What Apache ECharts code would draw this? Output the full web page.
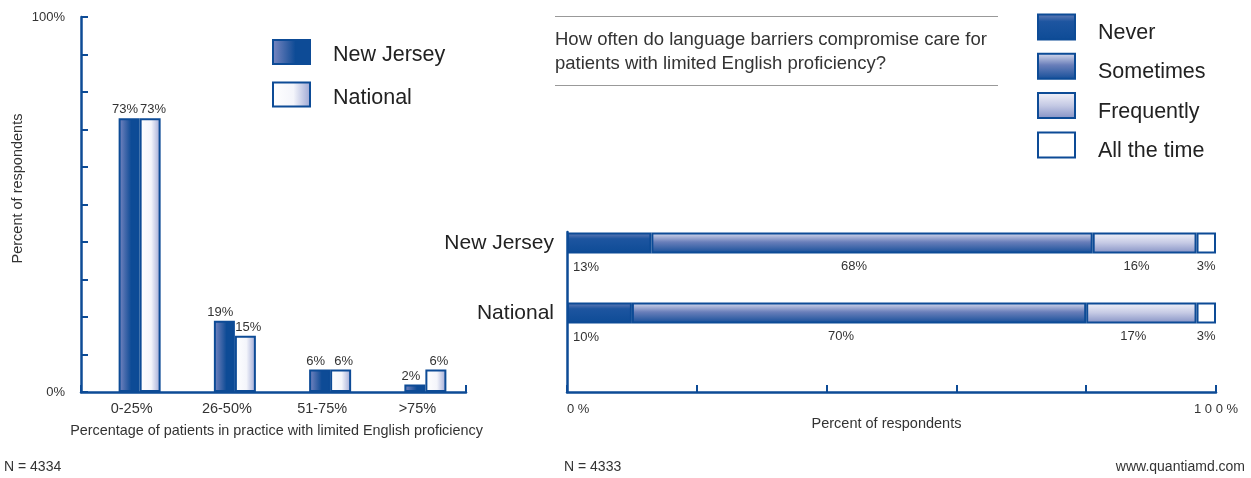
<!DOCTYPE html>
<html>
<head>
<meta charset="utf-8">
<script src="https://cdn.jsdelivr.net/npm/echarts@6/dist/echarts.min.js"></script>
<style>
  html, body { margin: 0; padding: 0; background: #fff; }
  #chart { width: 1251px; height: 478px; }
</style>
</head>
<body>
<div id="chart"></div>
<script>
// Share of patients with limited English proficiency in practice
const shareCategories = ['0-25%', '26-50%', '51-75%', '>75%'];
const shareNewJersey = [73, 19, 6, 2];
const shareNational = [73, 15, 6, 6];

// How often language barriers compromise care
const regions = ['New Jersey', 'National'];
const freqLevels = ['Never', 'Sometimes', 'Frequently', 'All the time'];
const freqNever = [13, 10];
const freqSometimes = [68, 70];
const freqFrequently = [16, 17];
const freqAllTheTime = [3, 3];

const NAVY = '#0d4b96';
const TEXT = '#333';
const FONT = '"Liberation Sans", Arial, sans-serif';

function hGrad(stops) {
  return new echarts.graphic.LinearGradient(0, 0, 1, 0, stops.map((c) => ({ offset: c[0], color: c[1] })));
}
function vGrad(stops) {
  return new echarts.graphic.LinearGradient(0, 0, 0, 1, stops.map((c) => ({ offset: c[0], color: c[1] })));
}

function pctLabel(extra) {
  return Object.assign({ show: true, formatter: '{c}%', color: TEXT, fontSize: 13, fontFamily: FONT }, extra);
}

// Legend text sits a little below the swatch centre: an empty spacer line pushes it down.
function legendText(spacer, lineHeight) {
  return {
    formatter: (name) => '{s| }\n{t|' + name + '}',
    textStyle: {
      padding: [0, 0, 0, 18],
      rich: {
        s: { fontSize: 2, lineHeight: spacer },
        t: { fontSize: 21.5, lineHeight: lineHeight, color: '#222', fontFamily: FONT }
      }
    }
  };
}

const chart = echarts.init(document.getElementById('chart'), null, { renderer: 'canvas' });

chart.setOption({
  animation: false,
  textStyle: { fontFamily: FONT },
  title: {
    text: 'How often do language barriers compromise care for\npatients with limited English proficiency?',
    left: 555, top: 28, padding: 0,
    textStyle: { fontSize: 18.5, fontWeight: 'normal', color: TEXT, lineHeight: 24, fontFamily: FONT }
  },
  legend: [
    Object.assign({
      data: ['New Jersey', 'National'],
      orient: 'vertical', left: 272, top: 39, padding: 0,
      itemWidth: 37, itemHeight: 24, itemGap: 15, icon: 'rect'
    }, legendText(7, 24)),
    Object.assign({
      data: freqLevels,
      orient: 'vertical', left: 1037, top: 13.5, padding: 0,
      itemWidth: 37, itemHeight: 25, itemGap: 8.8, icon: 'rect'
    }, legendText(12, 25))
  ],
  grid: [
    { left: 81, top: 17, width: 385, height: 375 },   // left frame
    { left: 92, top: 17, width: 381, height: 375 },   // left bars
    { left: 567, top: 232, width: 649, height: 160 }, // right frame
    { left: 567, top: 208, width: 649, height: 140 }  // right bars
  ],
  xAxis: [
    {
      gridIndex: 0, type: 'value', min: 0, max: 1, interval: 1,
      axisLine: { show: true, lineStyle: { color: NAVY, width: 2.5 } },
      axisTick: { show: true, inside: true, length: 7, lineStyle: { color: NAVY, width: 2 } },
      axisLabel: { show: false }, splitLine: { show: false },
      name: 'Percentage of patients in practice with limited English proficiency',
      nameLocation: 'middle', nameGap: 32,
      nameTextStyle: { fontSize: 14.4, color: TEXT, fontFamily: FONT, padding: [0, 0, 0, 6] }
    },
    {
      gridIndex: 1, type: 'category', data: shareCategories,
      axisLine: { show: false }, axisTick: { show: false },
      axisLabel: { fontSize: 14.5, color: TEXT, margin: 9, padding: [0, 16, 0, 0], fontFamily: FONT }
    },
    {
      gridIndex: 2, type: 'value', min: 0, max: 100, interval: 20,
      axisLine: { show: true, lineStyle: { color: NAVY, width: 2.5 } },
      axisTick: { show: true, inside: true, length: 7, lineStyle: { color: NAVY, width: 2 } },
      axisLabel: {
        fontSize: 13, color: TEXT, margin: 11, fontFamily: FONT,
        alignMinLabel: 'left', alignMaxLabel: 'center',
        formatter: (v) => (v === 0 ? '0 %' : v === 100 ? '1 0 0 %' : '')
      },
      splitLine: { show: false },
      name: 'Percent of respondents', nameLocation: 'middle', nameGap: 22,
      nameTextStyle: { fontSize: 14.5, color: TEXT, fontFamily: FONT, padding: [0, 10, 0, 0] }
    },
    {
      gridIndex: 3, type: 'value', min: 0, max: 100, show: false
    }
  ],
  yAxis: [
    {
      gridIndex: 0, type: 'value', min: 0, max: 100, interval: 10,
      axisLine: { show: true, lineStyle: { color: NAVY, width: 2.5 } },
      axisTick: { show: true, inside: true, length: 7, lineStyle: { color: NAVY, width: 2 } },
      axisLabel: {
        fontSize: 13, color: TEXT, margin: 16, fontFamily: FONT,
        formatter: (v) => (v === 0 || v === 100 ? v + '%' : '')
      },
      splitLine: { show: false },
      name: 'Percent of respondents', nameLocation: 'middle', nameRotate: 90, nameGap: 56,
      nameTextStyle: { fontSize: 14.5, color: TEXT, fontFamily: FONT, padding: [0, 0, 0, 32] }
    },
    { gridIndex: 1, type: 'value', min: 0, max: 100, show: false },
    {
      gridIndex: 2, type: 'category', data: [''],
      axisLine: { show: true, lineStyle: { color: NAVY, width: 2.5 } },
      axisTick: { show: false }, axisLabel: { show: false }
    },
    {
      gridIndex: 3, type: 'category', data: regions, inverse: true,
      axisLine: { show: false }, axisTick: { show: false },
      axisLabel: { fontSize: 21, color: '#222', margin: 13, fontFamily: FONT }
    }
  ],
  series: [
    {
      name: 'New Jersey', type: 'bar', xAxisIndex: 1, yAxisIndex: 1,
      data: shareNewJersey, barWidth: 21, barGap: '0%',
      itemStyle: {
        color: hGrad([[0, '#7b88c2'], [0.45, '#2a5aa0'], [0.6, NAVY], [1, NAVY]]),
        borderColor: NAVY, borderWidth: 2
      },
      label: pctLabel({ position: 'top', distance: 2, offset: [-4, 0] })
    },
    {
      name: 'National', type: 'bar', xAxisIndex: 1, yAxisIndex: 1,
      data: shareNational, barWidth: 21, barGap: '0%',
      itemStyle: {
        color: hGrad([[0, '#ffffff'], [0.55, '#f4f5fb'], [1, '#9aa4d2']]),
        borderColor: NAVY, borderWidth: 2
      },
      label: pctLabel({ position: 'top', distance: 2, offset: [3, 0] })
    },
    {
      name: 'Never', type: 'bar', stack: 'freq', xAxisIndex: 3, yAxisIndex: 3,
      data: freqNever, barWidth: 21,
      itemStyle: {
        color: vGrad([[0, '#6a80b8'], [0.3, '#1d55a0'], [1, NAVY]]),
        borderColor: NAVY, borderWidth: 2
      },
      label: pctLabel({ position: [6, 28] })
    },
    {
      name: 'Sometimes', type: 'bar', stack: 'freq', xAxisIndex: 3, yAxisIndex: 3,
      data: freqSometimes, barWidth: 21,
      itemStyle: {
        color: vGrad([[0, '#dcdff0'], [0.45, '#6a7fba'], [1, '#124d98']]),
        borderColor: NAVY, borderWidth: 2
      },
      label: pctLabel({ position: 'bottom', distance: 6, offset: [-18, 0] })
    },
    {
      name: 'Frequently', type: 'bar', stack: 'freq', xAxisIndex: 3, yAxisIndex: 3,
      data: freqFrequently, barWidth: 21,
      itemStyle: {
        color: vGrad([[0, '#f4f4fa'], [0.5, '#c4c9e4'], [1, '#8390c4']]),
        borderColor: NAVY, borderWidth: 2
      },
      label: pctLabel({ position: 'bottom', distance: 6, offset: [-8, 0] })
    },
    {
      name: 'All the time', type: 'bar', stack: 'freq', xAxisIndex: 3, yAxisIndex: 3,
      data: freqAllTheTime, barWidth: 21,
      itemStyle: { color: '#ffffff', borderColor: NAVY, borderWidth: 2 },
      label: pctLabel({ position: 'bottom', distance: 6 })
    }
  ],
  graphic: [
    { type: 'line', shape: { x1: 555, y1: 16.5, x2: 998, y2: 16.5 }, style: { stroke: '#999', lineWidth: 1 } },
    { type: 'line', shape: { x1: 555, y1: 85.5, x2: 998, y2: 85.5 }, style: { stroke: '#999', lineWidth: 1 } },
    { type: 'text', left: 4, top: 460, style: { text: 'N = 4334', fontSize: 14, fill: TEXT, fontFamily: FONT } },
    { type: 'text', left: 564, top: 460, style: { text: 'N = 4333', fontSize: 14, fill: TEXT, fontFamily: FONT } },
    { type: 'text', right: 6, top: 460, style: { text: 'www.quantiamd.com', fontSize: 14, fill: TEXT, fontFamily: FONT } }
  ]
});
</script>
</body>
</html>
